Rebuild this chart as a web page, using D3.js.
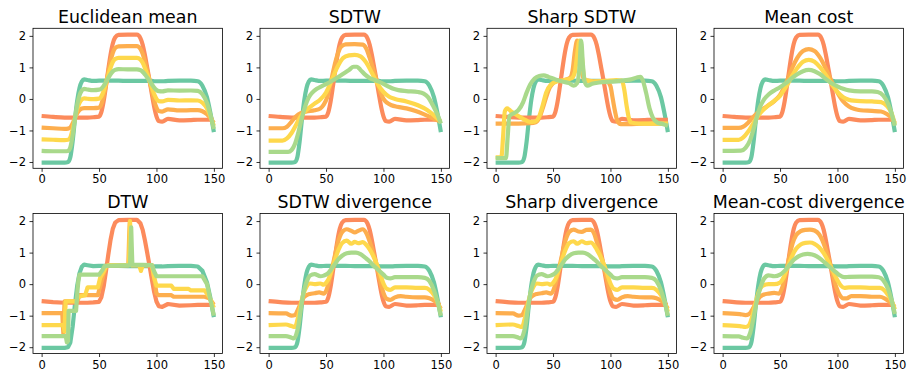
<!DOCTYPE html>
<html><head><meta charset="utf-8">
<script src="https://cdn.jsdelivr.net/npm/d3@7"></script>
<style>
html,body{margin:0;padding:0;background:#fff;}
svg{display:block;}
text{font-family:"DejaVu Sans",sans-serif;}
</style></head>
<body>
<svg id="chart" width="915" height="382"></svg>
<script>
// ---------------- DATA ----------------
const panelTitles = ["Euclidean mean","SDTW","Sharp SDTW","Mean cost","DTW","SDTW divergence","Sharp divergence","Mean-cost divergence"];
const xTicks = [0,50,100,150];
const yTicks = [-2,-1,0,1,2];
const seriesColors = ["#fc8b5c","#fdae4e","#fed84c","#a9d98b","#6bc8a2"];

// shared time grid for the two input series and the Euclidean mean
const xGrid = [0,10,20,23,25,27,29,31,33,35,37,40,45,50,52,54,56,58,60,62,64,67,75,83,86,88,90,92,94,96,98,100,102,105,110,120,130,136,140,144,147,150];
const redSeries = [-0.54,-0.57,-0.59,-0.59,-0.59,-0.59,-0.59,-0.59,-0.59,-0.59,-0.59,-0.59,-0.58,-0.56,-0.42,-0.08,0.40,0.92,1.40,1.76,1.95,2.03,2.04,2.04,1.93,1.72,1.38,0.98,0.58,0.15,-0.25,-0.55,-0.70,-0.72,-0.63,-0.68,-0.67,-0.66,-0.66,-0.66,-0.66,-0.66];
const tealSeries = [-2.02,-2.02,-2.02,-2.00,-1.85,-1.35,-0.65,-0.05,0.35,0.55,0.62,0.60,0.57,0.58,0.58,0.58,0.58,0.58,0.58,0.58,0.58,0.58,0.57,0.57,0.57,0.57,0.57,0.57,0.57,0.57,0.56,0.56,0.56,0.56,0.57,0.58,0.58,0.56,0.42,0.05,-0.45,-1.05];
const euclidOrange = [-0.91,-0.93,-0.95,-0.94,-0.905,-0.78,-0.605,-0.455,-0.355,-0.305,-0.29,-0.29,-0.29,-0.275,-0.17,0.085,0.445,0.835,1.195,1.465,1.61,1.668,1.673,1.673,1.59,1.433,1.178,0.878,0.578,0.255,-0.048,-0.273,-0.385,-0.40,-0.33,-0.365,-0.358,-0.355,-0.39,-0.483,-0.608,-0.758];
const euclidYellow = [-1.28,-1.295,-1.305,-1.295,-1.22,-0.97,-0.62,-0.32,-0.12,-0.02,0.015,0.005,-0.005,0.01,0.08,0.25,0.49,0.75,0.99,1.17,1.265,1.305,1.305,1.305,1.25,1.145,0.975,0.775,0.575,0.36,0.155,0.005,-0.07,-0.08,-0.03,-0.05,-0.045,-0.05,-0.12,-0.305,-0.555,-0.855];
const euclidGreen = [-1.65,-1.66,-1.66,-1.65,-1.535,-1.16,-0.635,-0.185,0.115,0.265,0.32,0.30,0.28,0.295,0.33,0.415,0.535,0.665,0.785,0.875,0.92,0.943,0.938,0.938,0.91,0.858,0.773,0.673,0.573,0.465,0.358,0.283,0.245,0.24,0.27,0.265,0.268,0.255,0.15,-0.128,-0.503,-0.953];

// SDTW barycenters ([time, value])
const sdtwOrange = [[0,-0.93],[12,-0.93],[16,-0.88],[20,-0.72],[24,-0.55],[28,-0.45],[33,-0.4],[40,-0.36],[45,-0.3],[48,-0.18],[51,0.05],[54,0.5],[57,1.0],[60,1.4],[63,1.65],[67,1.73],[75,1.74],[82,1.72],[85,1.6],[88,1.3],[91,0.95],[94,0.6],[97,0.25],[100,0.0],[103,-0.12],[107,-0.2],[112,-0.25],[120,-0.3],[128,-0.38],[135,-0.48],[141,-0.58],[146,-0.66],[150,-0.72]];
const sdtwYellow = [[0,-1.32],[12,-1.32],[16,-1.25],[20,-1.08],[24,-0.82],[28,-0.55],[32,-0.38],[36,-0.26],[40,-0.15],[45,-0.02],[50,0.2],[55,0.6],[60,1.02],[65,1.3],[70,1.38],[75,1.4],[80,1.35],[85,1.15],[90,0.82],[95,0.47],[100,0.22],[105,0.07],[110,0.0],[120,-0.08],[130,-0.2],[138,-0.35],[144,-0.52],[150,-0.72]];
const sdtwGreen = [[0,-1.68],[17,-1.68],[20,-1.62],[23,-1.42],[26,-1.05],[29,-0.6],[32,-0.22],[35,0.05],[38,0.2],[42,0.32],[46,0.4],[50,0.47],[55,0.57],[60,0.68],[65,0.8],[70,0.92],[74,1.02],[77,1.02],[80,0.92],[84,0.77],[88,0.66],[92,0.6],[96,0.55],[100,0.48],[104,0.4],[108,0.33],[113,0.28],[120,0.25],[130,0.22],[135,0.17],[139,0.05],[143,-0.2],[147,-0.5],[150,-0.78]];

// Sharp SDTW barycenters
const sharpOrange = [[0,-0.78],[20,-0.78],[30,-0.77],[35,-0.74],[38,-0.6],[41,-0.3],[44,0.05],[47,0.35],[50,0.5],[54,0.57],[60,0.6],[65,0.68],[67,0.9],[69,1.5],[71,1.85],[73,1.6],[75,0.9],[77,0.62],[80,0.58],[90,0.55],[97,0.55],[100,0.4],[102,0.0],[104,-0.4],[106,-0.7],[109,-0.8],[115,-0.8],[130,-0.78],[150,-0.78]];
const sharpYellow = [[0,-1.85],[5,-1.85],[6.5,-1.2],[8,-0.4],[10,-0.3],[13,-0.38],[18,-0.5],[24,-0.63],[30,-0.73],[34,-0.72],[38,-0.55],[41,-0.2],[44,0.2],[48,0.45],[53,0.55],[60,0.6],[66,0.65],[69,0.85],[71,1.4],[73,1.85],[75,1.4],[76.5,0.8],[78,0.6],[85,0.55],[95,0.57],[105,0.6],[110,0.58],[112,0.3],[114,-0.2],[116,-0.6],[118,-0.75],[125,-0.78],[150,-0.78]];
const sharpGreen = [[0,-1.88],[9,-1.88],[10.5,-1.2],[12,-0.55],[16,-0.45],[20,-0.35],[24,-0.1],[27,0.2],[30,0.45],[34,0.65],[38,0.73],[42,0.75],[46,0.7],[52,0.62],[58,0.55],[64,0.5],[68,0.42],[71,0.5],[73,1.0],[74.5,1.85],[76,1.1],[77.5,0.55],[80,0.42],[84,0.48],[90,0.52],[100,0.55],[110,0.58],[118,0.62],[123,0.68],[126,0.7],[128,0.6],[131,0.2],[134,-0.3],[137,-0.6],[141,-0.75],[146,-0.8],[150,-0.85]];

// Mean cost barycenters
const meanOrange = [[0,-0.92],[14,-0.92],[18,-0.88],[22,-0.76],[26,-0.6],[30,-0.46],[35,-0.32],[40,-0.2],[45,-0.07],[50,0.13],[55,0.48],[60,0.93],[65,1.3],[70,1.52],[75,1.58],[80,1.52],[85,1.3],[90,0.95],[95,0.55],[100,0.2],[105,-0.08],[110,-0.24],[115,-0.32],[120,-0.36],[130,-0.38],[138,-0.4],[143,-0.48],[147,-0.6],[150,-0.75]];
const meanYellow = [[0,-1.3],[14,-1.3],[18,-1.22],[22,-1.05],[26,-0.82],[30,-0.58],[35,-0.36],[40,-0.2],[45,-0.06],[50,0.1],[55,0.37],[60,0.7],[65,0.98],[70,1.18],[75,1.24],[80,1.18],[85,1.0],[90,0.75],[95,0.46],[100,0.22],[105,0.05],[110,-0.03],[120,-0.07],[130,-0.08],[138,-0.1],[143,-0.22],[147,-0.45],[150,-0.8]];
const meanGreen = [[0,-1.65],[16,-1.64],[20,-1.55],[24,-1.3],[27,-0.95],[30,-0.55],[33,-0.22],[36,-0.02],[40,0.14],[45,0.27],[50,0.37],[55,0.5],[60,0.65],[65,0.78],[70,0.88],[75,0.92],[80,0.88],[85,0.78],[90,0.63],[95,0.5],[100,0.4],[105,0.32],[110,0.27],[120,0.24],[130,0.24],[135,0.22],[140,0.1],[144,-0.15],[147,-0.45],[150,-0.85]];

// DTW barycenters
const dtwOrange = [[0,-0.92],[18,-0.92],[18.5,-1.3],[19,-1.6],[19.5,-1.0],[20,-0.55],[31,-0.55],[33,-0.35],[49,-0.35],[50,-0.2],[53,0.2],[56,0.55],[58,0.6],[75.5,0.6],[76.2,1.5],[76.8,2.0],[77.4,1.2],[78,0.6],[96,0.6],[98,0.2],[100,-0.3],[102,-0.35],[113,-0.35],[115,-0.4],[142,-0.4],[146,-0.45],[150,-0.65]];
const dtwYellow = [[0,-1.3],[19,-1.3],[20,-1.5],[20.5,-0.9],[21,-0.55],[30,-0.55],[32,-0.4],[38,-0.35],[40,-0.1],[49,-0.1],[51,0.2],[54,0.4],[56,0.55],[58,0.6],[76,0.6],[77,2.0],[78,0.6],[85,0.6],[86.5,0.42],[88,0.6],[96,0.6],[98,0.2],[100,-0.05],[113,-0.05],[115,-0.15],[128,-0.15],[130,-0.2],[142,-0.2],[146,-0.4],[150,-0.75]];
const dtwGreen = [[0,-1.65],[21,-1.65],[22,-1.85],[23,-1.8],[23.5,-0.85],[30,-0.85],[31,-0.3],[32,0.1],[33,0.3],[50,0.3],[53,0.45],[55,0.58],[77,0.6],[77.5,1.2],[78,1.8],[78.5,1.2],[79,0.62],[96,0.6],[98,0.4],[100,0.25],[140,0.25],[144,0.0],[147,-0.5],[150,-1.0]];

// SDTW divergence barycenters
const sdivOrange = [[0,-0.92],[15,-0.93],[20,-1.0],[23,-0.98],[25,-0.85],[28,-0.6],[30,-0.45],[33,-0.35],[36,-0.31],[40,-0.29],[44,-0.26],[48,-0.3],[50,-0.22],[52,0.0],[55,0.45],[58,0.95],[61,1.4],[64,1.65],[68,1.74],[72,1.69],[75,1.64],[78,1.69],[82,1.74],[85,1.62],[88,1.35],[91,1.0],[94,0.6],[97,0.12],[100,-0.28],[103,-0.47],[106,-0.5],[110,-0.42],[115,-0.38],[120,-0.4],[130,-0.42],[136,-0.42],[140,-0.45],[144,-0.52],[147,-0.62],[150,-0.78]];
const sdivYellow = [[0,-1.3],[15,-1.28],[20,-1.33],[23,-1.36],[25,-1.15],[28,-0.65],[30,-0.35],[33,-0.08],[36,0.02],[40,0.0],[45,0.02],[48,-0.02],[50,0.04],[52,0.15],[55,0.45],[58,0.8],[61,1.1],[64,1.3],[68,1.38],[72,1.28],[75,1.34],[78,1.3],[82,1.33],[85,1.25],[88,1.1],[91,0.9],[94,0.65],[97,0.35],[100,0.02],[103,-0.15],[106,-0.18],[110,-0.1],[120,-0.1],[130,-0.12],[136,-0.12],[140,-0.18],[144,-0.35],[147,-0.55],[150,-0.88]];
const sdivGreen = [[0,-1.65],[15,-1.65],[20,-1.7],[22,-1.72],[24,-1.6],[26,-1.3],[28,-0.8],[30,-0.35],[32,-0.05],[34,0.15],[36,0.27],[40,0.32],[45,0.25],[48,0.27],[52,0.35],[55,0.5],[58,0.65],[61,0.8],[64,0.9],[68,0.98],[72,1.0],[76,1.0],[80,0.95],[84,0.84],[88,0.72],[91,0.6],[94,0.5],[97,0.4],[100,0.3],[103,0.2],[106,0.18],[110,0.22],[120,0.22],[130,0.22],[136,0.2],[140,0.1],[144,-0.2],[147,-0.55],[150,-1.0]];

// Sharp divergence barycenters
const shdivOrange = [[0,-0.92],[15,-0.93],[20,-1.0],[23,-0.98],[25,-0.85],[28,-0.6],[30,-0.45],[33,-0.35],[36,-0.31],[40,-0.29],[44,-0.26],[48,-0.3],[50,-0.22],[52,0.0],[55,0.45],[58,0.95],[61,1.4],[64,1.65],[68,1.73],[72,1.67],[75,1.66],[79,1.72],[83,1.73],[86,1.58],[88,1.35],[91,1.0],[94,0.6],[97,0.12],[100,-0.28],[103,-0.47],[106,-0.5],[110,-0.42],[115,-0.38],[120,-0.4],[130,-0.42],[136,-0.42],[140,-0.45],[144,-0.52],[147,-0.62],[150,-0.78]];
const shdivYellow = [[0,-1.3],[15,-1.28],[20,-1.33],[23,-1.36],[25,-1.15],[28,-0.65],[30,-0.35],[33,-0.08],[36,0.02],[40,0.0],[45,0.02],[48,-0.02],[50,0.04],[52,0.15],[55,0.45],[58,0.8],[61,1.1],[64,1.3],[68,1.36],[71,1.28],[75,1.36],[79,1.3],[83,1.32],[86,1.22],[88,1.1],[91,0.9],[94,0.65],[97,0.35],[100,0.02],[103,-0.15],[106,-0.18],[110,-0.1],[120,-0.1],[130,-0.12],[136,-0.12],[140,-0.18],[144,-0.35],[147,-0.55],[150,-0.88]];
const shdivGreen = [[0,-1.65],[15,-1.65],[20,-1.7],[22,-1.72],[24,-1.6],[26,-1.3],[28,-0.8],[30,-0.35],[32,-0.05],[34,0.15],[36,0.27],[40,0.32],[45,0.25],[48,0.27],[52,0.35],[55,0.5],[58,0.65],[61,0.8],[64,0.9],[68,0.98],[72,1.0],[76,1.0],[80,0.95],[84,0.84],[88,0.72],[91,0.6],[94,0.5],[97,0.4],[100,0.3],[103,0.2],[106,0.18],[110,0.22],[120,0.22],[130,0.22],[136,0.2],[140,0.1],[144,-0.2],[147,-0.55],[150,-1.0]];

// Mean-cost divergence barycenters
const mdivOrange = [[0,-0.92],[15,-0.95],[20,-0.98],[23,-0.95],[26,-0.8],[29,-0.6],[32,-0.42],[36,-0.33],[40,-0.3],[45,-0.28],[49,-0.3],[52,-0.1],[55,0.35],[58,0.85],[61,1.3],[64,1.55],[68,1.68],[72,1.72],[76,1.73],[80,1.7],[84,1.58],[87,1.38],[90,1.08],[93,0.72],[96,0.3],[99,-0.1],[102,-0.35],[105,-0.45],[108,-0.45],[112,-0.38],[120,-0.38],[130,-0.4],[137,-0.4],[141,-0.45],[145,-0.55],[148,-0.65],[150,-0.72]];
const mdivYellow = [[0,-1.3],[15,-1.33],[20,-1.36],[23,-1.3],[26,-1.0],[29,-0.55],[32,-0.2],[35,-0.05],[40,0.0],[45,0.0],[50,0.05],[53,0.2],[56,0.48],[60,0.85],[64,1.12],[68,1.26],[72,1.31],[76,1.32],[80,1.28],[84,1.17],[88,0.98],[92,0.72],[96,0.42],[100,0.12],[103,-0.05],[106,-0.12],[110,-0.1],[120,-0.1],[130,-0.12],[137,-0.12],[141,-0.2],[145,-0.4],[148,-0.6],[150,-0.8]];
const mdivGreen = [[0,-1.65],[14,-1.66],[18,-1.7],[21,-1.72],[24,-1.55],[27,-1.05],[30,-0.5],[33,-0.1],[36,0.17],[40,0.28],[45,0.25],[50,0.3],[54,0.42],[58,0.6],[62,0.77],[66,0.88],[70,0.94],[74,0.96],[78,0.94],[82,0.88],[86,0.78],[90,0.65],[94,0.52],[98,0.4],[102,0.28],[106,0.22],[110,0.23],[120,0.24],[130,0.24],[136,0.22],[140,0.12],[144,-0.15],[147,-0.5],[150,-0.95]];

// ---------------- BUILD ----------------
const zipGrid = vals => xGrid.map((x,i)=>[x, vals[i]]);
const redPts = zipGrid(redSeries), tealPts = zipGrid(tealSeries);
const panels = [
  {mid:[zipGrid(euclidOrange), zipGrid(euclidYellow), zipGrid(euclidGreen)], curve:d3.curveMonotoneX},
  {mid:[sdtwOrange, sdtwYellow, sdtwGreen], curve:d3.curveMonotoneX},
  {mid:[sharpOrange, sharpYellow, sharpGreen], curve:d3.curveMonotoneX},
  {mid:[meanOrange, meanYellow, meanGreen], curve:d3.curveMonotoneX},
  {mid:[dtwOrange, dtwYellow, dtwGreen], curve:d3.curveLinear},
  {mid:[sdivOrange, sdivYellow, sdivGreen], curve:d3.curveMonotoneX},
  {mid:[shdivOrange, shdivYellow, shdivGreen], curve:d3.curveMonotoneX},
  {mid:[mdivOrange, mdivYellow, mdivGreen], curve:d3.curveMonotoneX}
];

const svg = d3.select("#chart");
const colLefts = [33, 260, 487, 714];
const rowTops = [28.3, 213.5];
const W = 189.5, H = 140;

panels.forEach((p, i) => {
  const left = colLefts[i % 4], top = rowTops[Math.floor(i / 4)];
  const x = d3.scaleLinear().domain([-7.5, 157.5]).range([0, W]);
  const y = d3.scaleLinear().domain([-2.2, 2.24]).range([H, 0]);
  const g = svg.append("g").attr("transform", `translate(${left},${top})`);

  const line = d3.line().x(d => x(d[0])).y(d => y(d[1])).curve(p.curve);
  const all = [redPts, ...p.mid, tealPts];
  // draw order: teal input first, then red -> light green
  const order = [4, 0, 1, 2, 3];
  order.forEach(k => {
    g.append("path").attr("d", line(all[k])).attr("fill", "none")
      .attr("stroke", seriesColors[k]).attr("stroke-width", 4.2)
      .attr("stroke-linejoin", "round").attr("stroke-linecap", "butt");
  });

  const xa = g.append("g").attr("transform", `translate(0,${H})`)
    .call(d3.axisBottom(x).tickValues(xTicks).tickSize(3.5).tickPadding(3.5).tickFormat(d3.format("d")));
  const ya = g.append("g")
    .call(d3.axisLeft(y).tickValues(yTicks).tickSize(3.5).tickPadding(3.5).tickFormat(d3.format("d")));
  [xa, ya].forEach(a => {
    a.select(".domain").remove();
    a.selectAll(".tick line").attr("stroke", "#000").attr("stroke-width", 0.8);
    a.selectAll(".tick text").attr("fill", "#000").style("font-size", "11.5px").style("font-family", "DejaVu Sans");
  });

  g.append("rect").attr("x", 0).attr("y", 0).attr("width", W).attr("height", H)
    .attr("fill", "none").attr("stroke", "#000").attr("stroke-width", 0.8);

  g.append("text").attr("x", W / 2).attr("y", -5.6).attr("text-anchor", "middle")
    .style("font-size", "17.4px").attr("fill", "#000").text(panelTitles[i]);
});
</script>
</body></html>
